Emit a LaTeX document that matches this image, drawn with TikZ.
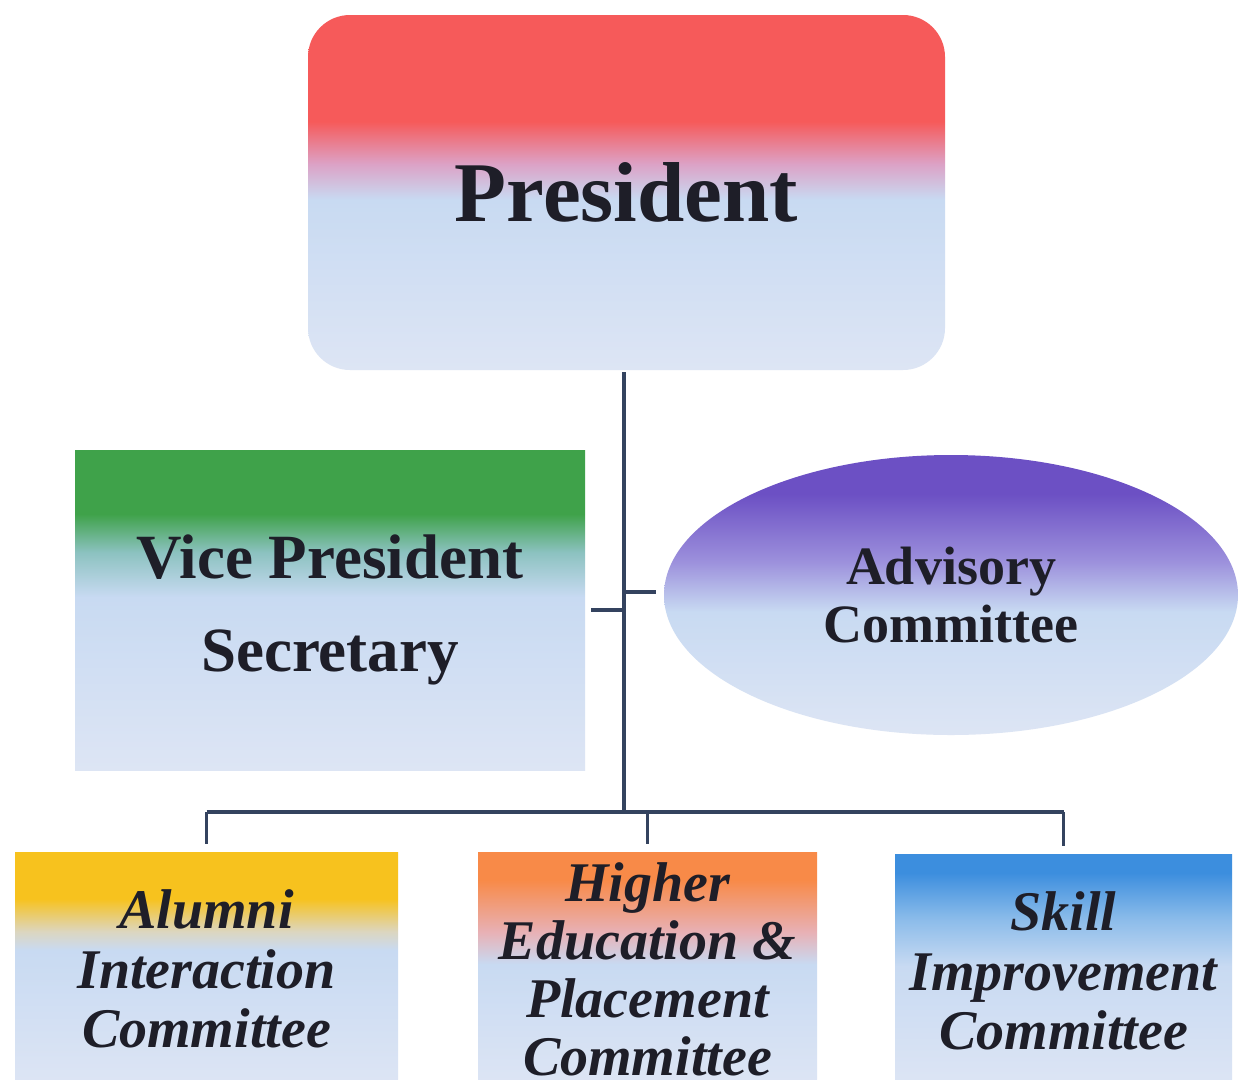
\documentclass[tikz,border=0pt]{standalone}
\usepackage{fontspec}
\setmainfont{Liberation Serif}
\usepackage{xcolor}
\usetikzlibrary{shapes.geometric,calc}

\definecolor{paleblue}{HTML}{C8DAF2}
\definecolor{paleend}{HTML}{DDE5F4}
\definecolor{presred}{HTML}{F65A5A}
\definecolor{presmid}{HTML}{DCA2C6}
\definecolor{vpgreen}{HTML}{3FA24A}
\definecolor{vpmid}{HTML}{8CC2C0}
\definecolor{advpurple}{HTML}{6C50C4}
\definecolor{advmid}{HTML}{9C90DC}
\definecolor{alumgold}{HTML}{F7C21E}
\definecolor{alummid}{HTML}{DCD6C0}
\definecolor{highorange}{HTML}{F88A48}
\definecolor{highmid}{HTML}{E8B0B4}
\definecolor{skillblue}{HTML}{3C8EDE}
\definecolor{skillmid}{HTML}{8CBCEA}
\definecolor{linkblue}{HTML}{34435F}
\definecolor{inkdark}{HTML}{1E1E28}

\pgfdeclareverticalshading{presshade}{100bp}{color(0bp)=(paleend); color(25bp)=(paleend); color(49bp)=(paleblue); color(54bp)=(presmid); color(60bp)=(presred); color(100bp)=(presred)}
\pgfdeclareverticalshading{vpshade}{100bp}{color(0bp)=(paleend); color(25bp)=(paleend); color(52bp)=(paleblue); color(59bp)=(vpmid); color(65bp)=(vpgreen); color(100bp)=(vpgreen)}
\pgfdeclareverticalshading{advshade}{100bp}{color(0bp)=(paleend); color(25bp)=(paleend); color(47bp)=(paleblue); color(56bp)=(advmid); color(68bp)=(advpurple); color(100bp)=(advpurple)}
\pgfdeclareverticalshading{alumshade}{100bp}{color(0bp)=(paleend); color(25bp)=(paleend); color(54bp)=(paleblue); color(58bp)=(alummid); color(65bp)=(alumgold); color(100bp)=(alumgold)}
\pgfdeclareverticalshading{highshade}{100bp}{color(0bp)=(paleend); color(25bp)=(paleend); color(51bp)=(paleblue); color(58bp)=(highmid); color(69bp)=(highorange); color(100bp)=(highorange)}
\pgfdeclareverticalshading{skillshade}{100bp}{color(0bp)=(paleend); color(25bp)=(paleend); color(51bp)=(paleblue); color(61bp)=(skillmid); color(71bp)=(skillblue); color(100bp)=(skillblue)}

\begin{document}
\begin{tikzpicture}[x=1pt,y=-1pt,
  unit/.style={shade,inner sep=0pt,align=center,text=inkdark,font=\bfseries},
  comm/.style={unit,minimum width=#1,minimum height=234pt,
    font=\fontsize{56}{59.5}\selectfont\bfseries\itshape},
  conn/.style={draw=linkblue,line width=3.5pt}]
\useasboundingbox[fill=white] (0,0) rectangle (1239,1079);
% top
\node[unit,shading=presshade,rounded corners=42pt,minimum width=637pt,minimum height=355pt,
  font=\fontsize{85}{90}\selectfont\bfseries] (pres) at (626.5,192.5) {President};
% middle row
\node[unit,shading=vpshade,minimum width=510pt,minimum height=320pt,
  font=\fontsize{63}{93}\selectfont\bfseries] (vp) at (330,610) {Vice President\\Secretary};
\node[unit,shading=advshade,ellipse,minimum width=574pt,minimum height=280pt,
  font=\fontsize{54}{58}\selectfont\bfseries] (adv) at (951,595) {Advisory\\Committee};
% committees
\node[comm=383pt,shading=alumshade] (alumni) at (206.5,969) {Alumni\\Interaction\\Committee};
\node[comm=339pt,shading=highshade,font=\fontsize{56}{58}\selectfont\bfseries\itshape] (higher) at (647.5,969) {Higher\\Education \&\\Placement\\Committee};
\node[comm=337pt,shading=skillshade] (skill) at (1063.5,971) {Skill\\Improvement\\Committee};
% connectors
\coordinate (bus) at (624,812);
\draw[conn,shorten <=2pt] (pres.south -| bus) -- (bus);
\draw[conn] (bus -| alumni) -- (bus -| skill);
\foreach \c in {alumni,higher,skill}
  \draw[conn,shorten >=8pt] (bus -| \c) -- (\c);
\draw[conn,shorten <=6pt] (vp.east) -- (vp.east -| bus);
\draw[conn,shorten >=8pt] ($(adv.west -| bus)+(0,-3)$) -- ($(adv.west)+(0,-3)$);
\end{tikzpicture}
\end{document}
